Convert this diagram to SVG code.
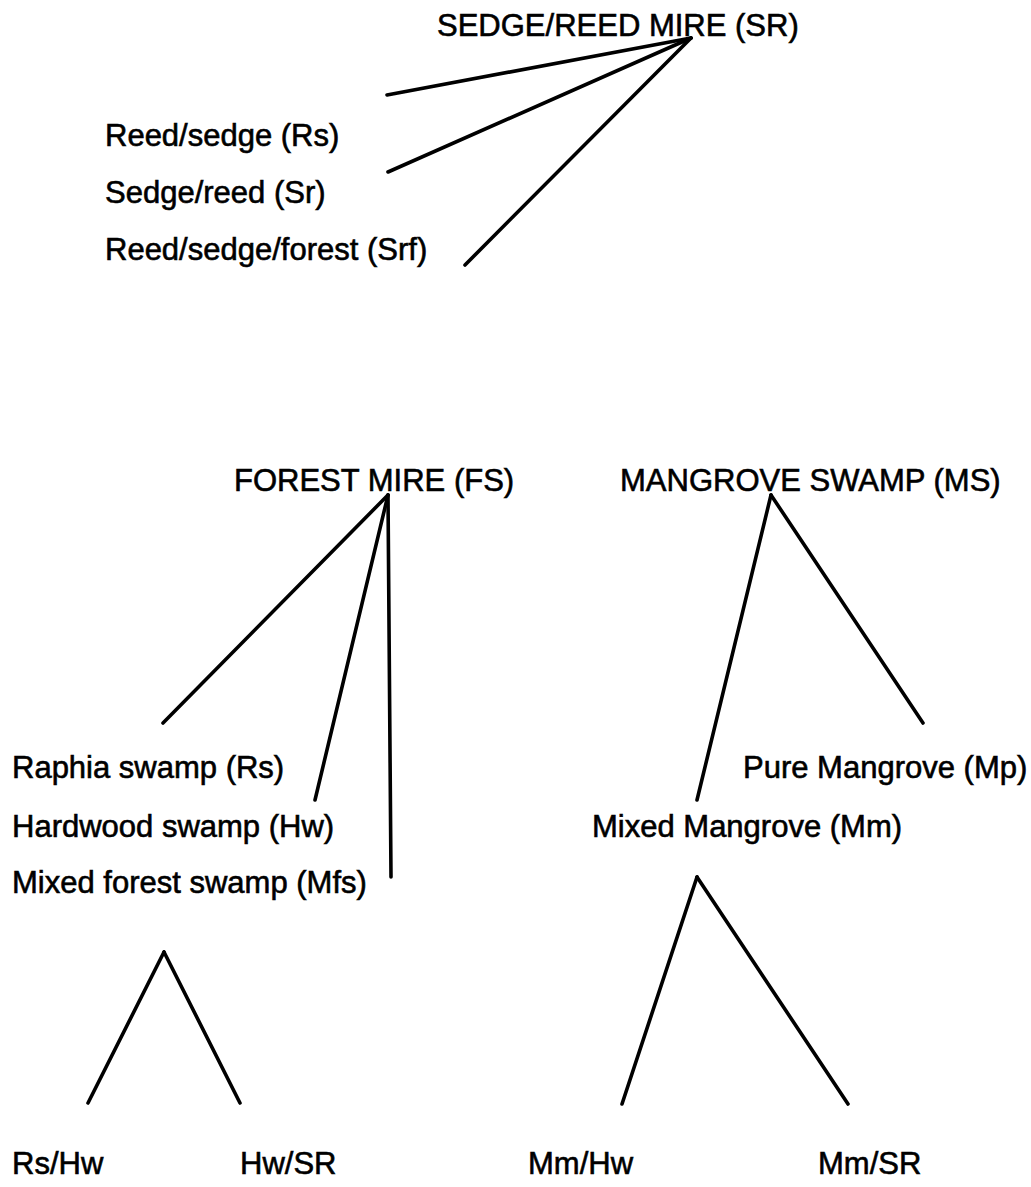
<svg xmlns="http://www.w3.org/2000/svg" width="1031" height="1187" viewBox="0 0 1031 1187">
<style>
  text { font-family: "Liberation Sans", Arial, sans-serif; font-size: 31px; fill: #000; stroke: #000; stroke-width: 0.6px; }
  .c line { stroke: #000; stroke-width: 3.6; stroke-linecap: round; fill: none; }
</style>
<rect width="1031" height="1187" fill="#fff"/>
<g id="connectors" class="c">
  <line x1="691" y1="38" x2="387" y2="95"/>
  <line x1="691" y1="38" x2="388" y2="172"/>
  <line x1="691" y1="38" x2="465" y2="265"/>
  <line x1="388" y1="495" x2="163" y2="723"/>
  <line x1="388" y1="495" x2="315" y2="800"/>
  <line x1="388" y1="495" x2="391" y2="877"/>
  <line x1="771" y1="495" x2="697" y2="800"/>
  <line x1="771" y1="495" x2="923" y2="723"/>
  <line x1="164" y1="952" x2="88" y2="1103"/>
  <line x1="164" y1="952" x2="240" y2="1103"/>
  <line x1="697" y1="877" x2="622" y2="1104"/>
  <line x1="697" y1="877" x2="848" y2="1104"/>
</g>
<g id="node-SR"><text x="437" y="36">SEDGE/REED MIRE (SR)</text></g>
<g id="node-Rs1"><text x="105" y="146">Reed/sedge (Rs)</text></g>
<g id="node-Sr"><text x="105" y="203">Sedge/reed (Sr)</text></g>
<g id="node-Srf"><text x="105" y="260">Reed/sedge/forest (Srf)</text></g>
<g id="node-FS"><text x="234" y="491">FOREST MIRE (FS)</text></g>
<g id="node-MS"><text x="620" y="491">MANGROVE SWAMP (MS)</text></g>
<g id="node-Rs2"><text x="12" y="778">Raphia swamp (Rs)</text></g>
<g id="node-Hw"><text x="12" y="837">Hardwood swamp (Hw)</text></g>
<g id="node-Mfs"><text x="12" y="893">Mixed forest swamp (Mfs)</text></g>
<g id="node-Mp"><text x="743" y="778">Pure Mangrove (Mp)</text></g>
<g id="node-Mm"><text x="592" y="837">Mixed Mangrove (Mm)</text></g>
<g id="node-RsHw"><text x="12" y="1174">Rs/Hw</text></g>
<g id="node-HwSR"><text x="240" y="1174">Hw/SR</text></g>
<g id="node-MmHw"><text x="528" y="1174">Mm/Hw</text></g>
<g id="node-MmSR"><text x="818" y="1174">Mm/SR</text></g>
</svg>
